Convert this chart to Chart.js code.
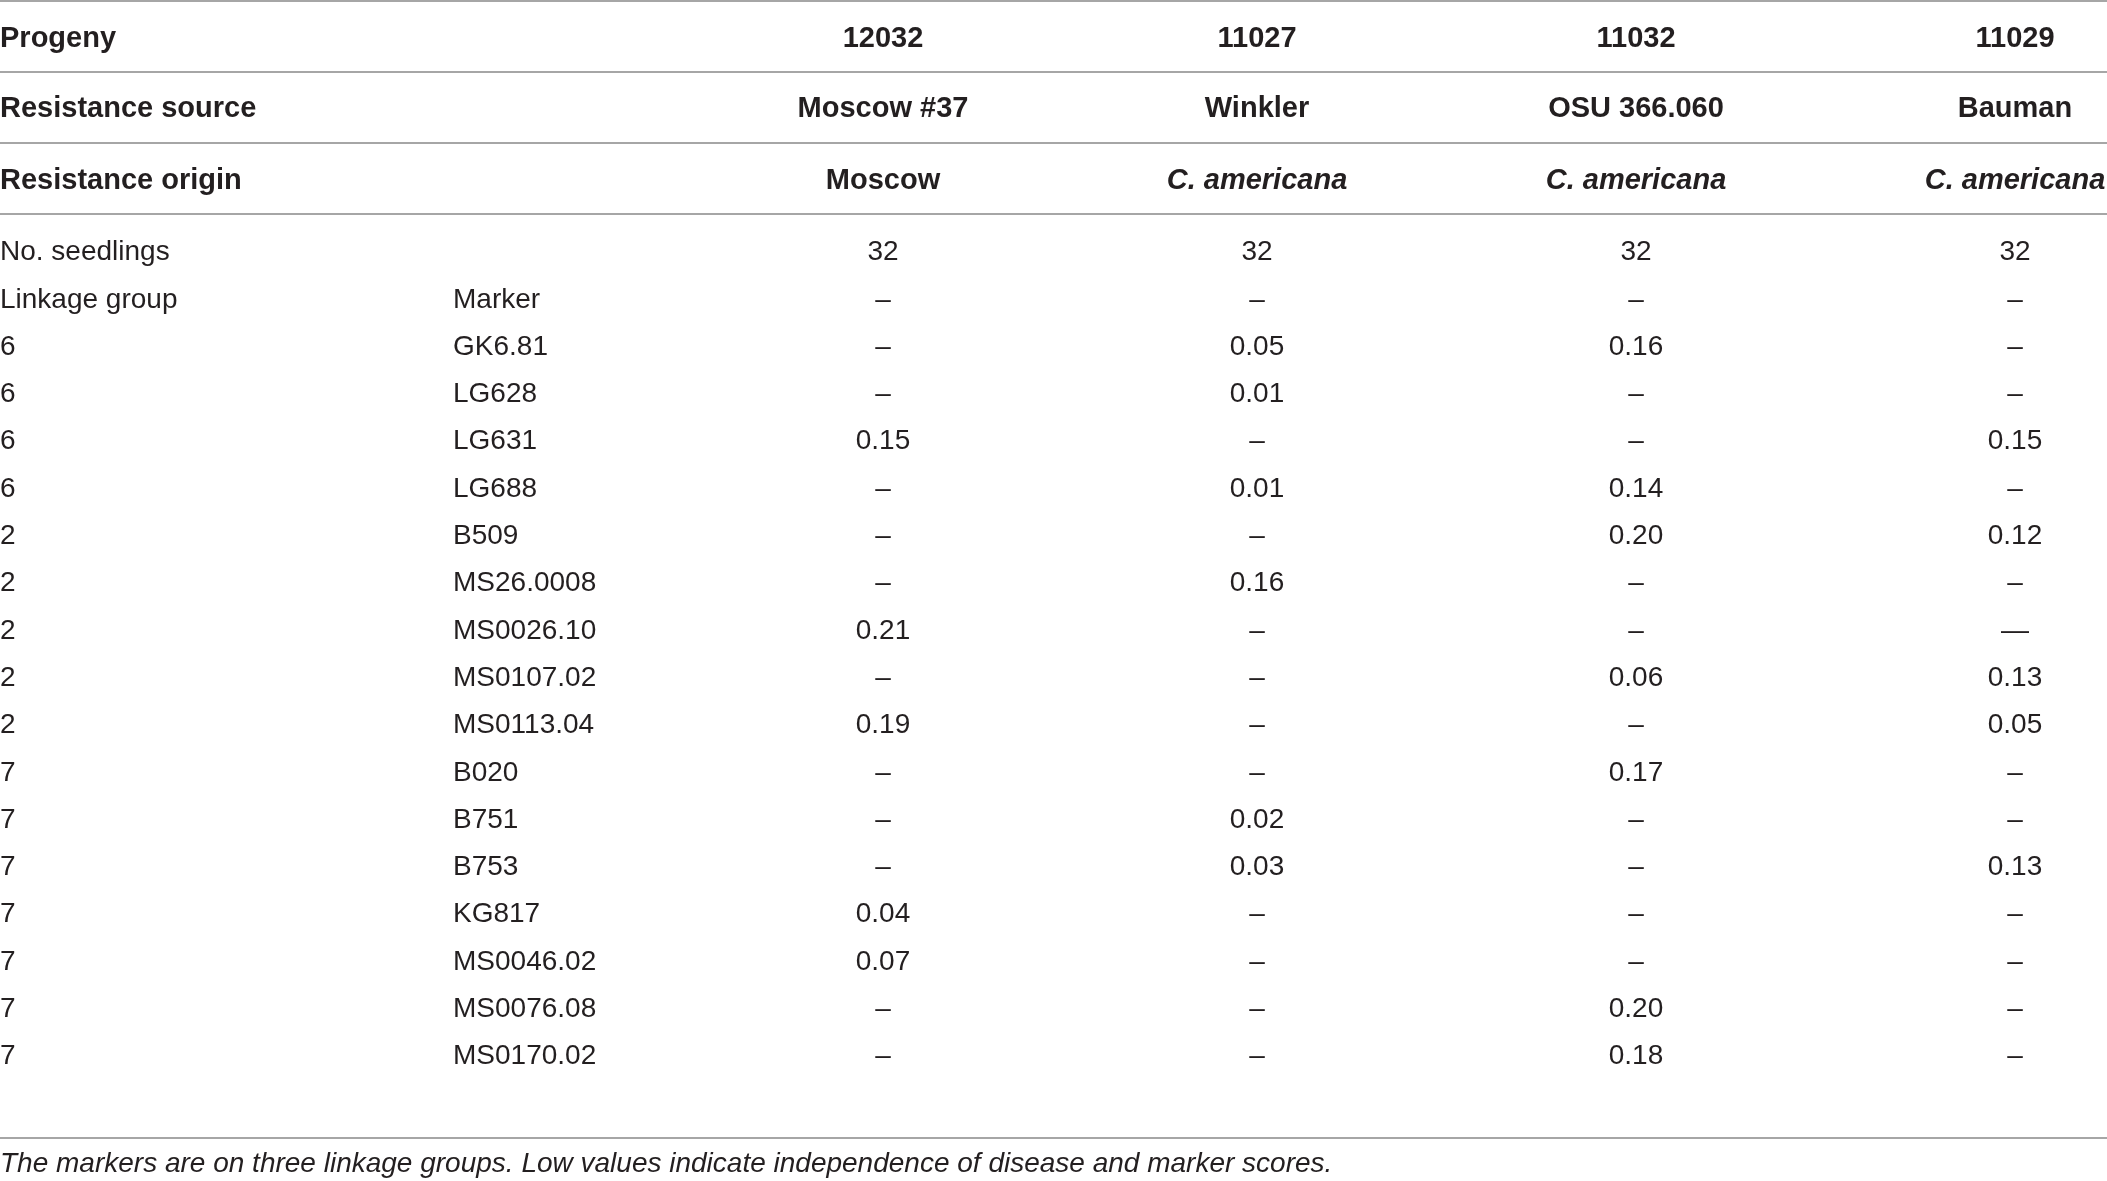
<!DOCTYPE html>
<html><head><meta charset="utf-8">
<script src="https://cdn.jsdelivr.net/npm/chart.js@4.4.1/dist/chart.umd.min.js"></script>
<style>html,body{margin:0;padding:0;background:#fff;overflow:hidden}#wrap{width:2107px;height:1181px;position:relative}</style>
</head><body><div id="wrap"><canvas id="c"></canvas></div>
<script>
// ---- data ----
const progenies = ['12032', '11027', '11032', '11029'];
const resistanceSources = ['Moscow #37', 'Winkler', 'OSU 366.060', 'Bauman'];
const resistanceOrigins = ['Moscow', 'C. americana', 'C. americana', 'C. americana'];
const seedlings = [32, 32, 32, 32];
const linkageGroups = [6, 6, 6, 6, 2, 2, 2, 2, 2, 7, 7, 7, 7, 7, 7, 7];
const markers = ['GK6.81', 'LG628', 'LG631', 'LG688', 'B509', 'MS26.0008', 'MS0026.10', 'MS0107.02',
  'MS0113.04', 'B020', 'B751', 'B753', 'KG817', 'MS0046.02', 'MS0076.08', 'MS0170.02'];
const values12032 = [null, null, 0.15, null, null, null, 0.21, null, 0.19, null, null, null, 0.04, 0.07, null, null];
const values11027 = [0.05, 0.01, null, 0.01, null, 0.16, null, null, null, null, 0.02, 0.03, null, null, null, null];
const values11032 = [0.16, null, null, 0.14, 0.20, null, null, 0.06, null, 0.17, null, null, null, null, 0.20, 0.18];
const values11029 = [null, null, 0.15, null, 0.12, null, '—', 0.13, 0.05, null, null, 0.13, null, null, null, null];
const rowHeaders = ['Progeny', 'Resistance source', 'Resistance origin'];
const footnote = 'The markers are on three linkage groups. Low values indicate independence of disease and marker scores.';

// ---- layout ----
const W = 2107, H = 1181;
const colCenters = [883, 1257, 1636, 2015];
const labelX = 0, markerX = 453;
const headerCenters = [38.5, 108.5, 180.5];
const ruleYs = [1, 71.5, 143, 214, 1138];
const bodyTop = 252.5, bodyStep = 47.3;
const footY = 1164;
const TEXT = '#231f20', RULE = '#a6a6a6';
const FONT = '"Liberation Sans", Arial, Helvetica, sans-serif';

const allValues = [values12032, values11027, values11032, values11029];
const fmt = v => v === null ? '–' : (typeof v === 'number' ? v.toFixed(2) : v);
const rowY = i => bodyTop + i * bodyStep;

const datasets = [];
// first label column
const firstCol = ['No. seedlings', 'Linkage group'].concat(linkageGroups.map(String));
datasets.push({ texts: firstCol, align: 'left', data: firstCol.map((t, i) => ({ x: labelX, y: rowY(i) })) });
// marker column
const markerCol = ['', 'Marker'].concat(markers);
datasets.push({ texts: markerCol, align: 'left', data: markerCol.map((t, i) => ({ x: markerX, y: rowY(i) })) });
// progeny value columns
progenies.forEach((p, j) => {
  const texts = [String(seedlings[j]), '–'].concat(allValues[j].map(fmt));
  datasets.push({ label: p, texts, align: 'center', data: texts.map((t, i) => ({ x: colCenters[j], y: rowY(i) })) });
});
datasets.forEach(d => { d.pointRadius = 0; d.pointHoverRadius = 0; d.showLine = false; });

const tablePlugin = {
  id: 'table',
  afterDatasetsDraw(chart) {
    const ctx = chart.ctx, xs = chart.scales.x, ys = chart.scales.y;
    ctx.save();
    // rules
    ctx.strokeStyle = RULE; ctx.lineWidth = 2;
    ruleYs.forEach(y => {
      const py = Math.round(ys.getPixelForValue(y));
      ctx.beginPath(); ctx.moveTo(xs.getPixelForValue(0), py); ctx.lineTo(xs.getPixelForValue(W), py); ctx.stroke();
    });
    ctx.fillStyle = TEXT; ctx.textBaseline = 'middle';
    // header rows
    const headerRows = [progenies, resistanceSources, resistanceOrigins];
    headerRows.forEach((row, r) => {
      const py = ys.getPixelForValue(headerCenters[r]);
      ctx.font = 'bold 29px ' + FONT; ctx.textAlign = 'left';
      ctx.fillText(rowHeaders[r], xs.getPixelForValue(labelX), py);
      row.forEach((t, j) => {
        ctx.font = (r === 2 && t.startsWith('C.') ? 'italic ' : '') + 'bold 29px ' + FONT;
        ctx.textAlign = 'center';
        ctx.fillText(t, xs.getPixelForValue(colCenters[j]), py);
      });
    });
    // body cells from dataset elements
    ctx.font = '28px ' + FONT;
    chart.data.datasets.forEach((ds, di) => {
      const meta = chart.getDatasetMeta(di);
      ctx.textAlign = ds.align;
      meta.data.forEach((el, i) => {
        const t = ds.texts[i];
        if (t) ctx.fillText(t, el.x, el.y);
      });
    });
    // footnote
    ctx.font = 'italic 28px ' + FONT; ctx.textAlign = 'left';
    ctx.fillText(footnote, xs.getPixelForValue(0), ys.getPixelForValue(footY));
    ctx.restore();
  }
};

const canvas = document.getElementById('c');
canvas.width = W; canvas.height = H;
new Chart(canvas, {
  type: 'scatter',
  data: { datasets },
  options: {
    responsive: false, animation: false, devicePixelRatio: 1,
    layout: { padding: 0 },
    events: [],
    plugins: { legend: { display: false }, tooltip: { enabled: false } },
    scales: {
      x: { type: 'linear', display: false, min: 0, max: W },
      y: { type: 'linear', display: false, min: 0, max: H, reverse: true }
    }
  },
  plugins: [tablePlugin]
});
</script></body></html>
